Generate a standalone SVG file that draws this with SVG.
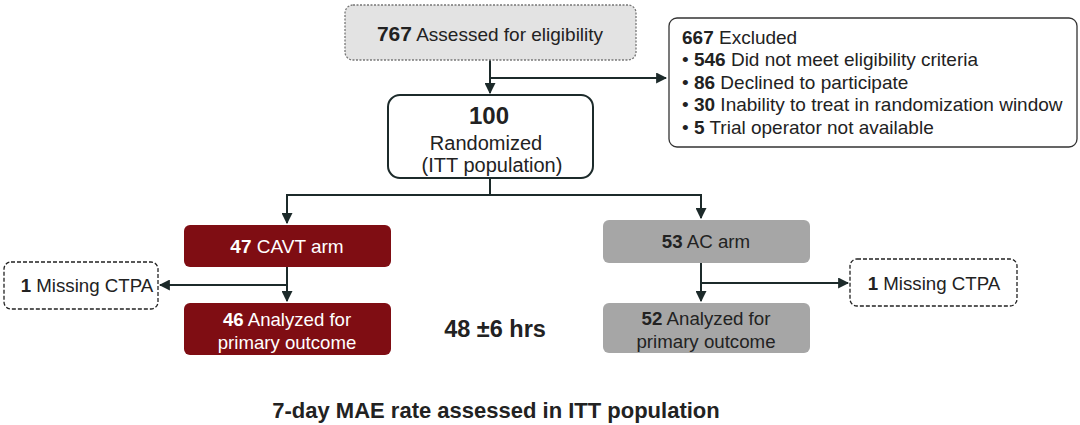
<svg xmlns="http://www.w3.org/2000/svg" width="1080" height="425" viewBox="0 0 1080 425">
<style>
text{font-family:"Liberation Sans",Arial,sans-serif;fill:#222;}
.b{font-weight:bold;}
.c{text-anchor:middle;}
.w{fill:#fff;}
.ln{fill:none;stroke:#1c2a2a;stroke-width:2;}
.dash{fill:#fff;stroke:#222;stroke-width:1.3;stroke-dasharray:4 2;}
</style>
<defs>
<marker id="ah" viewBox="0 0 10 10" refX="9" refY="5" markerWidth="5.5" markerHeight="5.5" orient="auto-start-reverse">
<path d="M0,0 L10,5 L0,10 z" fill="#1c2a2a"/>
</marker>
</defs>
<rect width="1080" height="425" fill="#fff"/>
<g id="connectors">
<line class="ln" x1="490" y1="60" x2="490" y2="93" marker-end="url(#ah)"/>
<line class="ln" x1="490" y1="78" x2="666" y2="78" marker-end="url(#ah)"/>
<polyline class="ln" points="490,178 490,195"/>
<polyline class="ln" points="287,223 287,195 701,195 701,218" marker-start="url(#ah)" marker-end="url(#ah)"/>
<line class="ln" x1="287" y1="267" x2="287" y2="301" marker-end="url(#ah)"/>
<line class="ln" x1="287" y1="285" x2="160" y2="285" marker-end="url(#ah)"/>
<line class="ln" x1="701" y1="263" x2="701" y2="301" marker-end="url(#ah)"/>
<line class="ln" x1="701" y1="283" x2="848" y2="283" marker-end="url(#ah)"/>
</g>
<g id="assessed">
<rect x="345" y="5" width="291" height="55" rx="8" fill="#e3e3e3" stroke="#777" stroke-width="1.3" stroke-dasharray="2 1.5"/>
<text x="490" y="41" class="c" font-size="19"><tspan class="b" font-size="21">767</tspan> Assessed for eligibility</text>
</g>
<g id="excluded">
<rect x="669" y="18" width="408" height="129" rx="8" fill="#fff" stroke="#333" stroke-width="1.3"/>
<text x="682" y="44" font-size="19"><tspan class="b">667</tspan> Excluded</text>
<text x="682" y="66" font-size="19">• <tspan class="b">546</tspan> Did not meet eligibility criteria</text>
<text x="682" y="89" font-size="19">• <tspan class="b">86</tspan> Declined to participate</text>
<text x="682" y="111" font-size="19">• <tspan class="b">30</tspan> Inability to treat in randomization window</text>
<text x="682" y="134" font-size="19">• <tspan class="b">5</tspan> Trial operator not available</text>
</g>
<g id="randomized">
<rect x="388" y="95" width="205" height="83" rx="12" fill="#fff" stroke="#1c2a2a" stroke-width="2"/>
<text x="489" y="124" class="c b" font-size="24">100</text>
<text x="486" y="150" class="c" font-size="20">Randomized</text>
<text x="492" y="172" class="c" font-size="20">(ITT  population)</text>
</g>
<g id="cavt">
<rect x="184" y="225" width="207" height="42" rx="6" fill="#7f0d13"/>
<text x="287" y="253" class="c w" font-size="19"><tspan class="b w">47</tspan> CAVT arm</text>
</g>
<g id="missing-left">
<rect x="4" y="262" width="154" height="47" rx="7" class="dash"/>
<text x="87" y="292" class="c" font-size="18.7"><tspan class="b">1</tspan> Missing CTPA</text>
</g>
<g id="cavt-analyzed">
<rect x="184" y="303" width="207" height="52" rx="6" fill="#7f0d13"/>
<text x="287" y="326" class="c w" font-size="18.6"><tspan class="b w">46</tspan> Analyzed for</text>
<text x="287" y="349" class="c w" font-size="18.6">primary outcome</text>
</g>
<g id="hours">
<text x="495" y="337" class="c b" font-size="23.5">48 ±6 hrs</text>
</g>
<g id="ac">
<rect x="603" y="220" width="207" height="43" rx="6" fill="#a6a6a6"/>
<text x="706" y="248" class="c" font-size="18.7"><tspan class="b">53</tspan> AC arm</text>
</g>
<g id="missing-right">
<rect x="850" y="259" width="167" height="47" rx="7" class="dash"/>
<text x="934" y="290" class="c" font-size="18.7"><tspan class="b">1</tspan> Missing CTPA</text>
</g>
<g id="ac-analyzed">
<rect x="603" y="303" width="207" height="50" rx="6" fill="#a6a6a6"/>
<text x="706" y="325" class="c" font-size="18.7"><tspan class="b">52</tspan> Analyzed for</text>
<text x="706" y="348" class="c" font-size="18.7">primary outcome</text>
</g>
<g id="footer">
<text x="496" y="418" class="c b" font-size="22">7-day MAE rate assessed in ITT population</text>
</g>
</svg>
